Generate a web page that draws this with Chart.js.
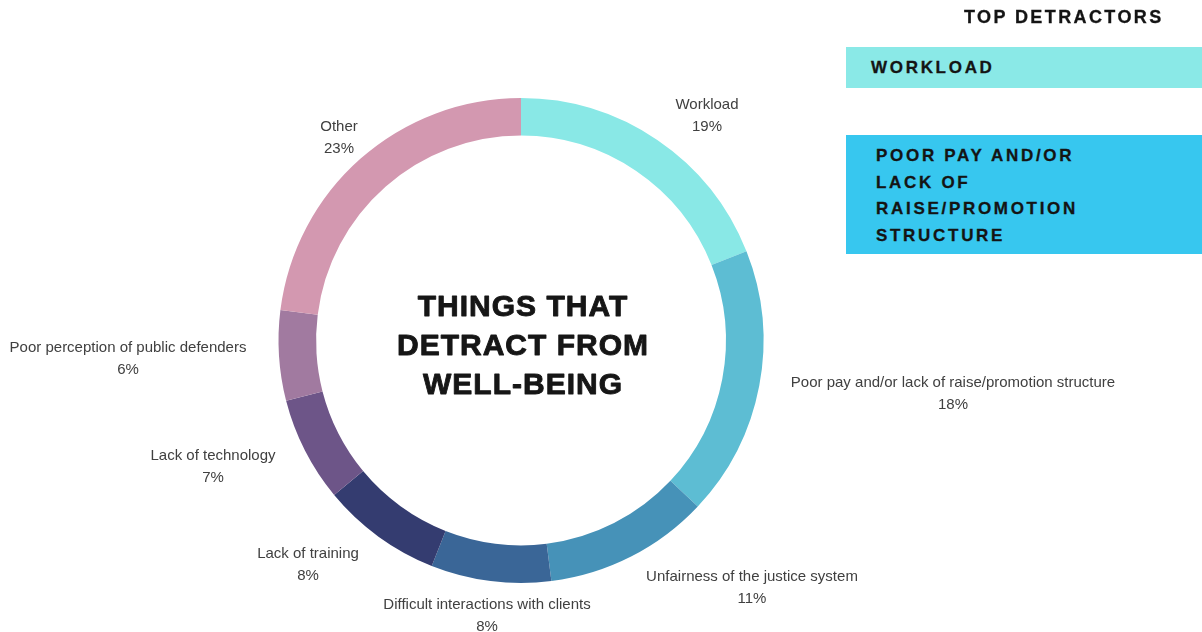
<!DOCTYPE html>
<html>
<head>
<meta charset="utf-8">
<script src="https://cdn.jsdelivr.net/npm/chart.js@4.4.1/dist/chart.umd.min.js"></script>
<style>
  html, body { margin: 0; padding: 0; background: #ffffff; }
  #wrap { position: relative; width: 1202px; height: 632px; overflow: hidden; }
  #chart { position: absolute; left: 0; top: 0; }
  .side { position: absolute; font-family: "Liberation Sans", Arial, sans-serif; font-weight: bold; color: #141414; }
  #sideTitle { left: 964px; top: 6px; font-size: 18px; letter-spacing: 2.4px; line-height: 22px; -webkit-text-stroke: 0.3px #141414; }
  .box { position: absolute; left: 846px; width: 356px; }
  #box1 { top: 47px; height: 41px; background: #8ae9e7; }
  #box2 { top: 135px; height: 119px; background: #37c7ef; }
  #box1 span { position: absolute; left: 25px; top: 11px; font-size: 17px; letter-spacing: 2.7px; line-height: 20px; -webkit-text-stroke: 0.3px #141414; }
  #box2 span { position: absolute; left: 30px; top: 8px; font-size: 17px; letter-spacing: 2.7px; line-height: 26.7px; -webkit-text-stroke: 0.3px #141414; }
</style>
</head>
<body>
<div id="wrap">
  <canvas id="chart" width="1202" height="632"></canvas>
  <div class="side" id="sideTitle">TOP DETRACTORS</div>
  <div class="side box" id="box1"><span>WORKLOAD</span></div>
  <div class="side box" id="box2"><span>POOR PAY AND/OR<br>LACK OF<br>RAISE/PROMOTION<br>STRUCTURE</span></div>
</div>
<script>
// Survey responses: what detracts from well-being (percent of answers)
const categories = [
  "Workload",
  "Poor pay and/or lack of raise/promotion structure",
  "Unfairness of the justice system",
  "Difficult interactions with clients",
  "Lack of training",
  "Lack of technology",
  "Poor perception of public defenders",
  "Other"
];
const shares = [19, 18, 11, 8, 8, 7, 6, 23];
const sliceColors = ["#89e8e6", "#5dbdd3", "#4692b8", "#3a6697", "#343c70", "#6d5588", "#a17aa0", "#d398b0"];

// Label anchors relative to the ring centre (x, y of the first text line)
const labelAnchors = [
  [186, -236], [432, 42], [231, 236], [-34, 264],
  [-213, 213], [-308, 115], [-393, 7], [-182, -214]
];
const centerTitle = ["THINGS THAT", "DETRACT FROM", "WELL-BEING"];

const labelPlugin = {
  id: "sliceLabels",
  afterDraw(chart) {
    const meta = chart.getDatasetMeta(0);
    const arc = meta.data[0];
    const cx = arc.x, cy = arc.y;
    const ctx = chart.ctx;
    ctx.save();
    ctx.textAlign = "center";
    ctx.textBaseline = "middle";
    ctx.fillStyle = "#404040";
    ctx.font = "15px 'Liberation Sans', Arial, sans-serif";
    categories.forEach((name, i) => {
      const [dx, dy] = labelAnchors[i];
      ctx.fillText(name, cx + dx, cy + dy);
      ctx.fillText(shares[i] + "%", cx + dx, cy + dy + 22);
    });
    ctx.fillStyle = "#161616";
    ctx.strokeStyle = "#161616";
    ctx.lineWidth = 0.9;
    ctx.lineJoin = "round";
    ctx.font = "bold 30px 'Liberation Sans', Arial, sans-serif";
    ctx.letterSpacing = "1px";
    centerTitle.forEach((line, i) => {
      const y = cy - 33 + i * 39;
      ctx.fillText(line, cx + 2, y);
      ctx.strokeText(line, cx + 2, y);
    });
    ctx.restore();
  }
};

new Chart(document.getElementById("chart"), {
  type: "doughnut",
  data: {
    labels: categories,
    datasets: [{
      data: shares,
      backgroundColor: sliceColors,
      borderWidth: 0
    }]
  },
  options: {
    responsive: false,
    animation: false,
    cutout: "84.5%",
    layout: { padding: { left: 278.5, right: 438.5, top: 98, bottom: 49 } },
    plugins: {
      legend: { display: false },
      tooltip: { enabled: false }
    }
  },
  plugins: [labelPlugin]
});
</script>
</body>
</html>
